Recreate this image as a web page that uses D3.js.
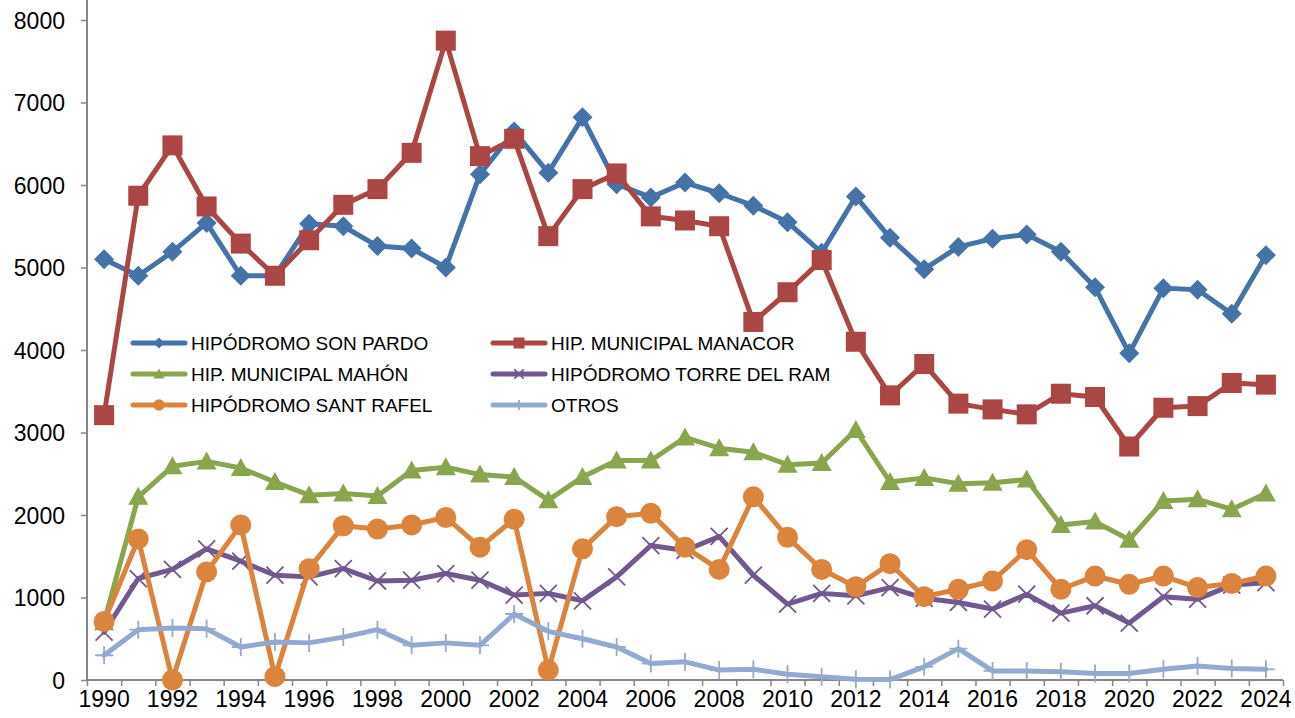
<!DOCTYPE html>
<html>
<head>
<meta charset="utf-8">
<script src="https://cdn.jsdelivr.net/npm/d3@7"></script>
<style>
	body { margin: 0; background: #fff; }
	svg text { font-family: "Liberation Sans", Arial, sans-serif; fill: #000; }
</style>
</head>
<body>
<div id="chart"></div>
<script>

var years = d3.range(1990, 2025);
var yTicks = [0, 1000, 2000, 3000, 4000, 5000, 6000, 7000, 8000];

var sonPardo = [5100, 4900, 5190, 5540, 4900, 4900, 5530, 5500, 5260, 5230, 5000, 6130, 6650, 6150, 6820, 6010, 5850, 6030, 5900, 5750, 5550, 5180, 5860, 5360, 4980, 5250, 5350, 5400, 5190, 4760, 3960, 4750, 4730, 4440, 5150];
var manacor = [3210, 5870, 6480, 5740, 5290, 4900, 5330, 5760, 5950, 6390, 7750, 6350, 6560, 5380, 5950, 6140, 5620, 5570, 5500, 4340, 4700, 5090, 4100, 3450, 3830, 3350, 3280, 3220, 3470, 3430, 2830, 3300, 3320, 3600, 3580];
var mahon = [700, 2220, 2590, 2650, 2570, 2400, 2240, 2260, 2230, 2540, 2580, 2490, 2460, 2180, 2460, 2660, 2660, 2940, 2810, 2760, 2610, 2630, 3030, 2400, 2450, 2380, 2390, 2430, 1880, 1920, 1700, 2170, 2190, 2070, 2260];
var torreDelRam = [580, 1230, 1340, 1590, 1440, 1270, 1250, 1350, 1200, 1210, 1290, 1210, 1030, 1050, 960, 1250, 1630, 1570, 1740, 1270, 920, 1050, 1020, 1120, 990, 940, 860, 1040, 810, 900, 690, 1010, 980, 1150, 1180];
var santRafel = [710, 1710, 0, 1310, 1880, 40, 1350, 1870, 1830, 1880, 1970, 1610, 1950, 120, 1590, 1980, 2020, 1610, 1340, 2220, 1730, 1340, 1130, 1410, 1010, 1100, 1200, 1580, 1100, 1260, 1160, 1260, 1120, 1170, 1260];
var otros = [300, 610, 630, 620, 400, 460, 450, 520, 610, 420, 450, 420, 800, 590, 500, 400, 200, 220, 120, 130, 70, 40, 10, 5, 160, 380, 110, 110, 100, 80, 80, 130, 170, 140, 130];

var series = [
	{ name: "HIPÓDROMO SON PARDO", values: sonPardo, color: "#4572A7", marker: "diamond", col: 0, row: 0 },
	{ name: "HIP. MUNICIPAL MANACOR", values: manacor, color: "#AA4643", marker: "square", col: 1, row: 0 },
	{ name: "HIP. MUNICIPAL MAHÓN", values: mahon, color: "#89A54E", marker: "triangle", col: 0, row: 1 },
	{ name: "HIPÓDROMO TORRE DEL RAM", values: torreDelRam, color: "#71588F", marker: "cross", col: 1, row: 1 },
	{ name: "HIPÓDROMO SANT RAFEL", values: santRafel, color: "#DB843D", marker: "circle", col: 0, row: 2 },
	{ name: "OTROS", values: otros, color: "#93A9CF", marker: "plus", col: 1, row: 2 }
];

var drawChart = function() {

	var width = 1295, height = 718;
	var plotLeft = 87, plotRight = 1283, plotTop = 20, plotBottom = 680;

	var svg = d3.select("#chart").append("svg")
		.attr("width", width)
		.attr("height", height);

	var x = d3.scaleBand().domain(years).range([plotLeft, plotRight]).padding(0);
	var xEdge = d3.scaleLinear().domain([0, years.length]).range([plotLeft, plotRight]);
	var y = d3.scaleLinear().domain([0, 8000]).range([plotBottom, plotTop]);

	var axisColor = "#868686";

	// y axis
	var yAxis = svg.append("g")
		.attr("transform", "translate(" + plotLeft + ",0)")
		.call(d3.axisLeft(y).tickValues(yTicks).tickSize(6).tickPadding(16).tickFormat(d3.format("d")));
	yAxis.select(".domain").remove();
	yAxis.selectAll("line").attr("stroke", axisColor).attr("stroke-width", 1.5);
	yAxis.selectAll("text").style("font-size", "23px").attr("dy", "0.35em");
	svg.append("line")
		.attr("x1", plotLeft).attr("x2", plotLeft)
		.attr("y1", 0).attr("y2", plotBottom)
		.attr("stroke", axisColor).attr("stroke-width", 2);

	// x axis: tick marks between categories, labels every 2 years
	var xTickAxis = svg.append("g")
		.attr("transform", "translate(0," + plotBottom + ")")
		.call(d3.axisBottom(xEdge).tickValues(d3.range(0, years.length + 1)).tickSize(6).tickFormat(""));
	xTickAxis.select(".domain").remove();
	xTickAxis.selectAll("line").attr("stroke", axisColor).attr("stroke-width", 1.5);
	svg.append("line")
		.attr("x1", plotLeft).attr("x2", plotRight)
		.attr("y1", plotBottom).attr("y2", plotBottom)
		.attr("stroke", axisColor).attr("stroke-width", 2);

	var xLabelAxis = svg.append("g")
		.attr("transform", "translate(0," + plotBottom + ")")
		.call(d3.axisBottom(x).tickValues(years.filter(function(d) { return d % 2 == 0; })).tickSize(0).tickPadding(11));
	xLabelAxis.select(".domain").remove();
	xLabelAxis.selectAll("text").style("font-size", "23px");

	var cx = function(i) { return x(years[i]) + x.bandwidth() / 2; };

	// draw a marker at (px, py) scaled by s
	var drawMarker = function(g, type, px, py, color, s) {
		if (type == "diamond") {
			var r = 10 * s;
			g.append("path")
				.attr("d", "M" + px + "," + (py - r) + "L" + (px + r) + "," + py + "L" + px + "," + (py + r) + "L" + (px - r) + "," + py + "Z")
				.attr("fill", color);
		} else if (type == "square") {
			var h = 10 * s;
			g.append("rect")
				.attr("x", px - h).attr("y", py - h)
				.attr("width", 2 * h).attr("height", 2 * h)
				.attr("fill", color);
		} else if (type == "triangle") {
			var w = 10 * s;
			g.append("path")
				.attr("d", "M" + px + "," + (py - 10 * s) + "L" + (px + w) + "," + (py + 8 * s) + "L" + (px - w) + "," + (py + 8 * s) + "Z")
				.attr("fill", color);
		} else if (type == "circle") {
			g.append("circle")
				.attr("cx", px).attr("cy", py).attr("r", 10.5 * s)
				.attr("fill", color);
		} else if (type == "cross") {
			var c = 8.5 * s;
			g.append("path")
				.attr("d", "M" + (px - c) + "," + (py - c) + "L" + (px + c) + "," + (py + c) + "M" + (px - c) + "," + (py + c) + "L" + (px + c) + "," + (py - c))
				.attr("stroke", color).attr("stroke-width", 1.8).attr("fill", "none");
		} else if (type == "plus") {
			var p = 9 * s;
			g.append("path")
				.attr("d", "M" + px + "," + (py - p) + "L" + px + "," + (py + p) + "M" + (px - p) + "," + py + "L" + (px + p) + "," + py)
				.attr("stroke", color).attr("stroke-width", 1.8).attr("fill", "none");
		}
	};

	var line = d3.line()
		.x(function(d, i) { return cx(i); })
		.y(function(d) { return y(d); });

	series.forEach(function(s) {
		var g = svg.append("g");
		g.append("path")
			.datum(s.values)
			.attr("d", line)
			.attr("fill", "none")
			.attr("stroke", s.color)
			.attr("stroke-width", 5)
			.attr("stroke-linejoin", "round")
			.attr("stroke-linecap", "round");
		s.values.forEach(function(v, i) {
			drawMarker(g, s.marker, cx(i), y(v), s.color, 1);
		});
	});

	// legend
	var legendCols = [131, 491];
	var legendRows = [343, 374, 405];
	var legend = svg.append("g");
	series.forEach(function(s) {
		var lx = legendCols[s.col], ly = legendRows[s.row];
		legend.append("line")
			.attr("x1", lx + 2).attr("x2", lx + 54)
			.attr("y1", ly).attr("y2", ly)
			.attr("stroke", s.color).attr("stroke-width", 5)
			.attr("stroke-linecap", "round");
		drawMarker(legend, s.marker, lx + 28, ly, s.color, 0.55);
		legend.append("text")
			.attr("x", lx + 60).attr("y", ly)
			.attr("dy", "0.35em")
			.style("font-size", "19px")
			.text(s.name);
	});

};

drawChart();

</script>
</body>
</html>
